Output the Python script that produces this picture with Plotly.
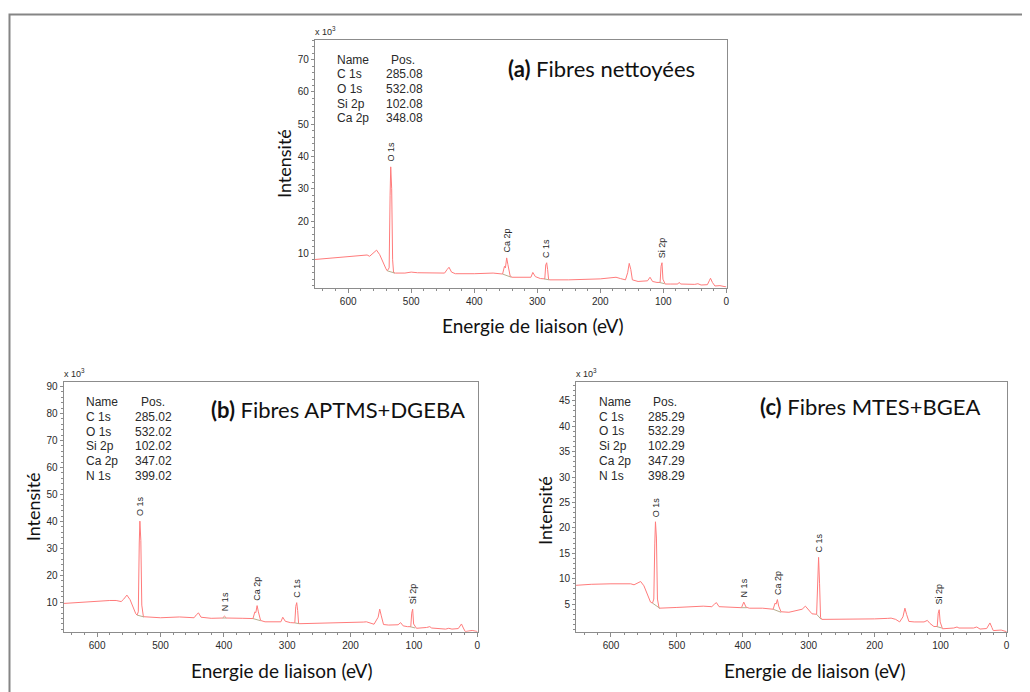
import plotly.graph_objects as go

W, H = 1030, 692
OFF = 8  # default page margin of the html body

# ---------------- data (binding energy in eV, intensity in x10^3 counts) ----------------
be_a = [653, 630, 600, 580, 570, 566, 561, 555, 550, 545, 540, 538, 535, 533.5, 532.5, 531, 529.5, 528,
        525, 510, 500, 490, 460, 447, 443, 440, 436, 430, 400, 370, 355, 352, 350.5, 348.5, 346.5, 343, 340,
        320, 310, 307, 303, 295, 288, 286.5, 285, 283.5, 282, 280, 250, 200, 180, 175, 168, 160, 156.5, 154,
        151.5, 149, 140, 125, 121, 117, 110, 105, 103.5, 102, 100.5, 97, 88, 77, 75, 72, 50, 45, 40, 30, 27,
        25, 22, 18, 10, 5, 0]
int_a = [8.1, 8.5, 8.9, 9.3, 9.5, 9.1, 9.9, 11.0, 9.6, 7.2, 5.2, 4.6, 5.5, 28.0, 36.8, 30.0, 8.0, 4.0,
         3.9, 3.9, 4.2, 4.0, 4.0, 3.9, 5.0, 5.7, 4.2, 3.7, 3.7, 3.9, 3.6, 6.0, 5.5, 8.6, 6.5, 3.0, 2.6,
         2.5, 2.6, 4.1, 2.8, 2.2, 2.1, 6.4, 7.1, 5.0, 2.0, 1.8, 1.8, 2.1, 2.4, 2.6, 2.2, 1.8, 4.0, 6.9,
         5.0, 1.8, 1.3, 1.5, 2.6, 1.3, 1.0, 1.0, 6.0, 7.1, 2.0, 0.5, 0.5, 0.5, 1.0, 0.5, 0.4, 0.6, 0.2, 0.3, 1.5,
         2.3, 1.0, -0.1, 0.0, -0.2, -0.4]

be_b = [653, 630, 600, 580, 570, 562, 558, 553, 548, 543, 539, 537, 535, 533.5, 532.5, 531, 529.5, 527,
        515, 500, 470, 447, 443, 440, 436, 420, 402, 399, 396, 380, 370, 354, 351, 349.5, 347.5, 345.5, 342,
        335, 320, 310, 307, 303, 295, 288, 286.5, 285, 283.5, 282, 280, 250, 200, 180, 175, 168, 163, 156.5,
        154, 151.5, 148, 140, 125, 121, 117, 110, 105, 103.5, 102, 100.5, 96, 80, 75, 72, 50, 45, 40, 30, 27,
        25, 22, 19, 8, 0]
int_b = [9.6, 10.0, 10.4, 10.7, 10.7, 10.3, 11.2, 12.7, 11.0, 8.0, 5.8, 5.3, 6.5, 32.0, 40.1, 33.0, 9.0, 4.7,
         4.6, 4.3, 4.6, 4.3, 5.5, 6.1, 4.5, 4.1, 4.2, 4.9, 4.2, 4.3, 4.1, 4.0, 6.5, 6.2, 8.8, 6.5, 3.3,
         2.8, 2.7, 2.8, 4.5, 3.0, 2.5, 2.4, 8.5, 9.9, 7.0, 2.2, 2.1, 2.2, 2.5, 2.7, 2.8, 2.3, 1.9, 4.5,
         7.5, 5.0, 1.8, 1.6, 1.7, 2.5, 1.3, 1.0, 1.0, 6.0, 7.5, 2.0, 0.4, 0.7, 1.0, 0.5, 0.1, 0.4, 0.1, 0.3, 1.2,
         2.0, 0.5, -0.8, -0.4, -0.8]

be_c = [653, 630, 600, 580, 570, 565, 560, 555, 550, 545, 540, 537, 535, 533.5, 532.5, 531, 529.5, 527,
        515, 500, 460, 447, 443, 440, 436, 420, 402, 398.5, 395, 390, 370, 354, 351, 349.5, 347.5, 345.5, 342,
        330, 315, 310, 305, 300, 295, 288, 286.5, 285, 283.5, 282, 280, 250, 200, 180, 175, 168, 162, 157,
        154, 151.5, 148, 140, 125, 120, 116, 110, 105, 103.5, 102, 100.5, 97, 80, 75, 72, 50, 45, 40, 30, 27,
        25, 22, 20, 8, 0]
int_c = [8.7, 8.9, 9.0, 9.0, 9.0, 8.8, 9.1, 9.45, 8.6, 7.0, 5.4, 5.2, 6.0, 17.0, 21.2, 18.0, 6.0, 4.2,
         4.3, 4.35, 4.6, 4.5, 5.0, 5.3, 4.5, 4.35, 4.3, 5.4, 4.4, 4.2, 4.2, 4.0, 5.2, 5.0, 5.9, 4.6, 3.5,
         3.4, 3.75, 4.0, 4.6, 3.8, 3.1, 3.0, 11.5, 14.2, 9.0, 2.4, 2.0, 2.0, 2.1, 2.2, 2.25, 2.0, 1.5, 2.5,
         4.2, 3.0, 1.6, 1.5, 1.5, 1.8, 1.2, 0.6, 0.6, 3.2, 3.9, 1.5, 0.15, 0.3, 0.5, 0.3, 0.3, 0.5, 0.1, 0.2, 0.8,
         1.3, 0.4, -0.2, -0.1, -0.4]

# fitted backgrounds under the labelled peaks (start/end pairs)
bg_a_x = [[538, 526], [355, 341], [289, 281], [106, 98]]
bg_a_y = [[4.6, 3.9], [3.6, 2.6], [2.1, 1.8], [1.0, 0.6]]
bg_b_x = [[537, 526], [402, 396], [354, 342], [288, 281], [106, 98]]
bg_b_y = [[5.3, 4.6], [4.2, 4.2], [4.0, 3.2], [2.4, 2.1], [1.0, 0.5]]
bg_c_x = [[537, 526], [402, 394], [354, 342], [288, 281], [106, 98]]
bg_c_y = [[5.2, 4.2], [4.3, 4.3], [4.0, 3.4], [3.0, 2.0], [0.6, 0.3]]

# peak identifications (label, position) and the fitted table
peaks_a = [("O 1s", 532.5), ("Ca 2p", 348.5), ("C 1s", 285), ("Si 2p", 102)]
peaks_b = [("O 1s", 532.5), ("N 1s", 399), ("Ca 2p", 347.5), ("C 1s", 285), ("Si 2p", 102)]
peaks_c = [("O 1s", 532.5), ("N 1s", 398.5), ("Ca 2p", 347.5), ("C 1s", 285), ("Si 2p", 102)]

table_names_a = ["C 1s", "O 1s", "Si 2p", "Ca 2p"]
table_pos_a = ["285.08", "532.08", "102.08", "348.08"]
table_names_b = ["C 1s", "O 1s", "Si 2p", "Ca 2p", "N 1s"]
table_pos_b = ["285.02", "532.02", "102.02", "347.02", "399.02"]
table_names_c = ["C 1s", "O 1s", "Si 2p", "Ca 2p", "N 1s"]
table_pos_c = ["285.29", "532.29", "102.29", "347.29", "398.29"]

x_ticks = [600, 500, 400, 300, 200, 100, 0]
y_ticks_a = [10, 20, 30, 40, 50, 60, 70]
y_ticks_b = [10, 20, 30, 40, 50, 60, 70, 80, 90]
y_ticks_c = [5, 10, 15, 20, 25, 30, 35, 40, 45]

titles = ["Fibres nettoyées", "Fibres APTMS+DGEBA", "Fibres MTES+BGEA"]
letters = ["(a)", "(b)", "(c)"]

# ---------------- layout helpers ----------------
def fx(p):
    return (p - OFF) / W

def fy(p):
    return 1 - (p - OFF) / H

LINE = "#ff7b7b"
BG = "#b8ad8e"
TXT = "#2a2a2a"
AX = "#8c8c8c"
SANS = "Liberation Sans, Arial, sans-serif"
HUM = "Lato, Open Sans, sans-serif"

panels = [
    dict(be=be_a, it=int_a, bgx=bg_a_x, bgy=bg_a_y, peaks=peaks_a, names=table_names_a, pos=table_pos_a,
         yt=y_ticks_a, yr=[-0.6, 76.1], ymd=2, box=(315.7, 729, 39, 287),
         name_xy=(335.7, 58.7), pos_x=(385, 390), ytit=(285, 163), xtit=(534.7, 325), tit=(507, 67.7)),
    dict(be=be_b, it=int_b, bgx=bg_b_x, bgy=bg_b_y, peaks=peaks_b, names=table_names_b, pos=table_pos_b,
         yt=y_ticks_b, yr=[-0.9, 91.6], ymd=2, box=(63.7, 479.3, 381.7, 631.7),
         name_xy=(84.3, 402), pos_x=(133.7, 139), ytit=(33.3, 506.7), xtit=(283.3, 670), tit=(210, 409)),
    dict(be=be_c, it=int_c, bgx=bg_c_x, bgy=bg_c_y, peaks=peaks_c, names=table_names_c, pos=table_pos_c,
         yt=y_ticks_c, yr=[-0.5, 48.6], ymd=1, box=(577.7, 1010, 382, 632),
         name_xy=(598.7, 401.7), pos_x=(648.3, 653.3), ytit=(547.3, 510), xtit=(817.7, 670), tit=(760, 406)),
]

fig = go.Figure()
annotations = []
layout_axes = {}

for i, p in enumerate(panels):
    k = "" if i == 0 else str(i + 1)
    xa, ya = "x" + k, "y" + k
    l, r, t, b = p["box"]
    fig.add_trace(go.Scatter(x=p["be"], y=p["it"], mode="lines", xaxis=xa, yaxis=ya,
                             line=dict(color=LINE, width=1), hoverinfo="skip", showlegend=False))
    for sx, sy in zip(p["bgx"], p["bgy"]):
        fig.add_trace(go.Scatter(x=sx, y=sy, mode="lines", xaxis=xa, yaxis=ya,
                                 line=dict(color=BG, width=1), hoverinfo="skip", showlegend=False))
    layout_axes["xaxis" + k] = dict(
        domain=[fx(l), fx(r)], range=[653, -1], anchor=ya,
        tickvals=x_ticks, ticktext=[str(v) for v in x_ticks],
        ticks="outside", ticklen=4, tickcolor=AX, tickwidth=1,
        minor=dict(dtick=20, tick0=0, ticks="outside", ticklen=2, tickcolor=AX),
        showline=True, linecolor=AX, linewidth=1, mirror=True,
        showgrid=False, zeroline=False,
        tickfont=dict(family=SANS, size=10, color=TXT))
    layout_axes["yaxis" + k] = dict(
        domain=[fy(b), fy(t)], range=p["yr"], anchor=xa,
        tickvals=p["yt"], ticktext=[str(v) for v in p["yt"]],
        ticks="outside", ticklen=3, tickcolor=AX, tickwidth=1,
        minor=dict(dtick=p["ymd"], tick0=0, ticks="outside", ticklen=2, tickcolor=AX),
        showline=True, linecolor=AX, linewidth=1, mirror=True,
        showgrid=False, zeroline=False,
        tickfont=dict(family=SANS, size=10, color=TXT))

    annotations.append(dict(xref="paper", yref="paper", x=fx(l - 2), y=fy(t - 1), xanchor="left", yanchor="bottom",
                            text="x 10<sup>3</sup>", showarrow=False,
                            font=dict(family=SANS, size=9, color=TXT)))
    nx, ny = p["name_xy"]
    step = 14.7
    annotations.append(dict(xref="paper", yref="paper", x=fx(nx), y=fy(ny), xanchor="left", yanchor="middle",
                            text="Name", showarrow=False, font=dict(family=SANS, size=12, color=TXT)))
    annotations.append(dict(xref="paper", yref="paper", x=fx(p["pos_x"][1]), y=fy(ny), xanchor="left",
                            yanchor="middle", text="Pos.", showarrow=False,
                            font=dict(family=SANS, size=12, color=TXT)))
    for j, (nm, ps) in enumerate(zip(p["names"], p["pos"])):
        yy = fy(ny + step * (j + 1))
        annotations.append(dict(xref="paper", yref="paper", x=fx(nx), y=yy, xanchor="left", yanchor="middle",
                                text=nm, showarrow=False, font=dict(family=SANS, size=12, color=TXT)))
        annotations.append(dict(xref="paper", yref="paper", x=fx(p["pos_x"][0]), y=yy, xanchor="left",
                                yanchor="middle", text=ps, showarrow=False,
                                font=dict(family=SANS, size=12, color=TXT)))
    for lab, e in p["peaks"]:
        idx = min(range(len(p["be"])), key=lambda q: abs(p["be"][q] - e))
        top = max(p["it"][max(0, idx - 1): idx + 2])
        annotations.append(dict(xref=xa, yref=ya, x=e, y=top, xanchor="center", yanchor="bottom",
                                yshift=3, textangle=-90, text=lab, showarrow=False,
                                font=dict(family=SANS, size=9, color=TXT)))
    annotations.append(dict(xref="paper", yref="paper", x=fx(p["ytit"][0]), y=fy(p["ytit"][1]),
                            xanchor="center", yanchor="middle", textangle=-90, text="Intensité",
                            showarrow=False, font=dict(family=HUM, size=18, color="#111")))
    annotations.append(dict(xref="paper", yref="paper", x=fx(p["xtit"][0]), y=fy(p["xtit"][1]),
                            xanchor="center", yanchor="middle", text="Energie de liaison (eV)",
                            showarrow=False, font=dict(family=HUM, size=19, color="#111")))
    annotations.append(dict(xref="paper", yref="paper", x=fx(p["tit"][0]), y=fy(p["tit"][1]),
                            xanchor="left", yanchor="middle",
                            text="<b>" + letters[i] + "</b> " + titles[i],
                            showarrow=False, font=dict(family=HUM, size=22, color="#111")))

fig.update_layout(
    width=W, height=H,
    margin=dict(l=0, r=0, t=0, b=0),
    paper_bgcolor="white", plot_bgcolor="white",
    showlegend=False,
    annotations=annotations,
    shapes=[dict(type="rect", xref="paper", yref="paper", x0=fx(9.5), x1=1.05, y0=-0.05, y1=fy(13.5),
                 line=dict(color="#858585", width=2), fillcolor="rgba(0,0,0,0)", layer="below")],
    **layout_axes,
)

fig.write_html("out.html")
